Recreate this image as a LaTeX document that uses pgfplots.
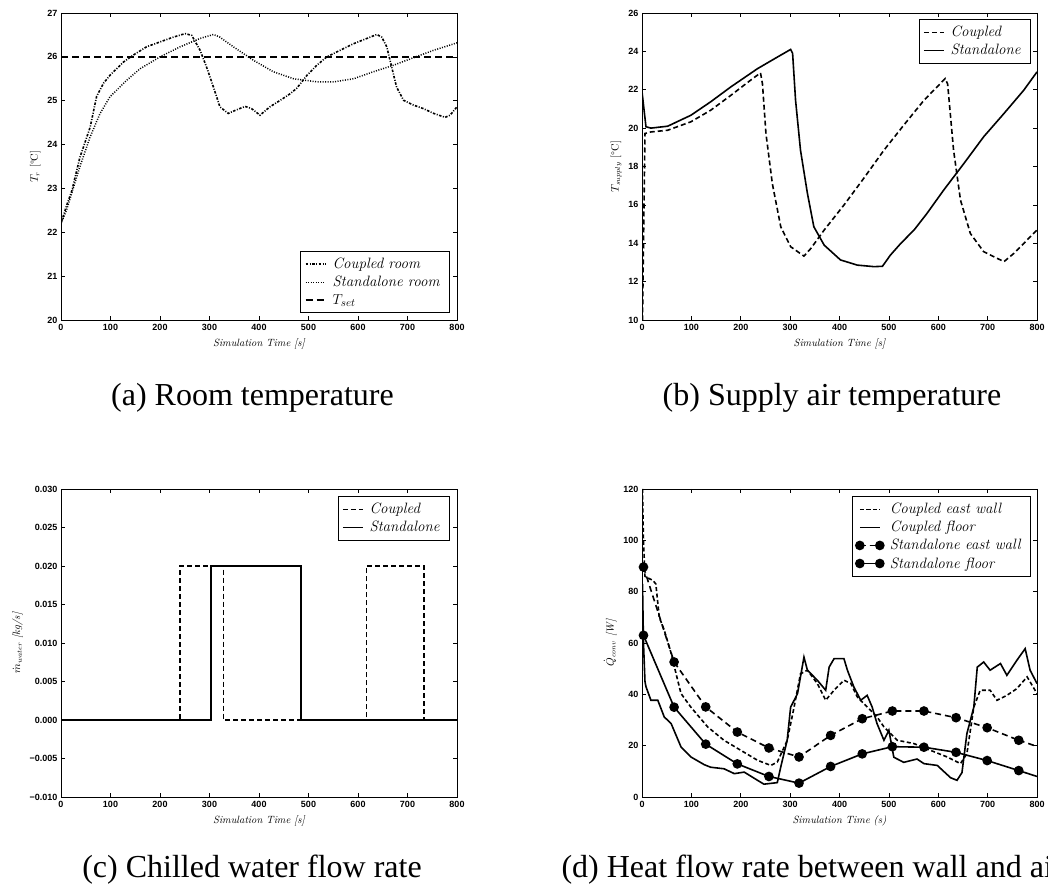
\documentclass[border=0pt]{standalone}
\usepackage{pgfplots}
\pgfplotsset{compat=1.18}
\usepackage{fontspec}
\newfontfamily\tickfont{Liberation Sans}
\newfontfamily\capfont{Liberation Serif}

\pgfplotsset{
  panel/.style={
    scale only axis, width=396pt, height=307pt,
    xmin=0, xmax=800, xtick={0,100,...,800},
    tick label style={font=\tickfont\bfseries\fontsize{9}{10}\selectfont},
    xticklabel style={yshift=-1pt},
    /pgf/number format/assume math mode=true,
    label style={font=\fontsize{10.5}{12}\selectfont\itshape},
    xlabel={Simulation Time [s]},
    xlabel style={yshift=-1pt},
    axis line style={line width=0.7pt},
    major tick length=4pt,
    every tick/.style={black, line width=0.6pt},
    legend cell align=left,
    legend style={font=\fontsize{15}{17}\selectfont\itshape, draw=black,
      line width=0.6pt, inner xsep=4pt, inner ysep=4pt, row sep=0pt,
      nodes={inner xsep=6pt, inner ysep=3pt}},
    legend image code/.code={\draw[mark repeat=2,mark phase=2,##1]
      plot coordinates {(0pt,0pt) (10pt,0pt) (20pt,0pt)};},
  },
  markleg/.style={legend image code/.code={\draw[##1, mark repeat=2, mark phase=1]
      plot coordinates {(0pt,0pt) (10pt,0pt) (20pt,0pt)};}},
}

\begin{document}
\begin{tikzpicture}
\useasboundingbox (0,0) rectangle (1048pt,891pt);

% (a) room temperature
\begin{axis}[panel, at={(61pt,571pt)}, anchor=south west,
  ymin=20, ymax=27, ytick={20,21,...,27},
  ylabel={$T_r$ \textup{[\textdegree C]}},
  legend style={at={(1,0)}, anchor=south east, xshift=-7pt, yshift=7pt}]
\addplot[black, line width=1.6pt, dash pattern=on 2.5pt off 1.5pt on 1pt off 1.5pt] coordinates {
(0,22.2) (11,22.6) (22,22.95) (38,23.7) (50,24.1) (59,24.4) (72,25.1) (86,25.4)
(99,25.58) (126,25.88) (146,26.04) (173,26.23) (200,26.34) (227,26.45) (251,26.53)
(264,26.49) (281,26.15) (294,25.77) (308,25.31) (321,24.86) (338,24.71) (352,24.78)
(372,24.87) (385,24.82) (402,24.67) (422,24.86) (443,25.01) (463,25.16) (476,25.28)
(497,25.58) (517,25.81) (537,26.0) (564,26.15) (591,26.30) (618,26.42) (638,26.51)
(648,26.45) (658,26.23) (668,25.77) (678,25.31) (692,25.01) (712,24.9) (732,24.82)
(753,24.71) (776,24.62) (786,24.67) (800,24.86)};
\addlegendentry{Coupled room}
\addplot[black, line width=1.5pt, dash pattern=on 1pt off 1.5pt] coordinates {
(0,22.2) (11,22.5) (38,23.49) (59,24.18) (79,24.71) (99,25.09) (133,25.47) (160,25.73)
(200,26.0) (241,26.23) (281,26.42) (308,26.51) (321,26.45) (348,26.23) (389,25.92)
(429,25.66) (470,25.5) (517,25.43) (551,25.43) (591,25.50) (631,25.66) (672,25.81)
(712,25.98) (753,26.15) (800,26.32)};
\addlegendentry{Standalone room}
\addplot[black, line width=2pt, dash pattern=on 7pt off 4pt] coordinates {(0,26) (800,26)};
\addlegendentry{$T_{set}$}
\end{axis}

% (b) supply air temperature
\begin{axis}[panel, at={(642pt,571pt)}, anchor=south west, width=395pt,
  ymin=10, ymax=26, ytick={10,12,...,26},
  ylabel={$T_{supply}$ \textup{[\textdegree C]}},
  legend style={at={(1,1)}, anchor=north east, xshift=-6pt, yshift=-6pt}]
\addplot[black, line width=1.6pt, dash pattern=on 5pt off 3pt] coordinates {
(0,10) (1,10) (6,19.72) (18,19.8) (52,19.89) (99,20.33) (139,20.93) (180,21.71)
(220,22.5) (240,22.88) (244,22.3) (251,19.72) (264,17.1) (281,14.86) (301,13.82)
(328,13.33) (342,13.73) (369,14.69) (409,15.99) (449,17.38) (490,18.85) (530,20.15)
(571,21.45) (614,22.58) (619,22.3) (631,18.85) (645,16.25) (665,14.51) (692,13.56)
(733,13.04) (753,13.47) (780,14.17) (800,14.69)};
\addlegendentry{Coupled}
\addplot[black, line width=1.6pt] coordinates {
(0,21.9) (8,20.07) (18,20.0) (52,20.1) (99,20.67) (139,21.37) (180,22.15) (234,23.1)
(274,23.7) (301,24.1) (305,23.9) (311,21.45) (321,18.85) (335,16.6) (348,14.86)
(369,13.9) (402,13.13) (436,12.86) (470,12.78) (487,12.8) (503,13.38) (524,13.99)
(551,14.69) (577,15.55) (611,16.77) (652,18.16) (692,19.55) (733,20.76) (773,21.97)
(800,22.93)};
\addlegendentry{Standalone}
\end{axis}

% (c) chilled water flow rate
\begin{axis}[panel, at={(61pt,94pt)}, anchor=south west, height=308pt,
  ymin=-0.010, ymax=0.030, scaled y ticks=false,
  ytick={-0.010,-0.005,0,0.005,0.010,0.015,0.020,0.025,0.030},
  yticklabels={−0.010,−0.005,0.000,0.005,0.010,0.015,0.020,0.025,0.030},
  ylabel={$\dot{m}_{water}$ [kg/s]},
  legend style={at={(1,1)}, anchor=north east, xshift=-7pt, yshift=-7pt}]
\addplot[black, line width=1.6pt, dash pattern=on 5pt off 3pt] coordinates {
(0,0) (240,0) (240,0.02) (328,0.02) (328,0) (617,0) (617,0.02) (733,0.02) (733,0) (800,0)};
\addlegendentry{Coupled}
\addplot[black, line width=1.6pt] coordinates {
(0,0) (303,0) (303,0.02) (485,0.02) (485,0) (800,0)};
\addlegendentry{Standalone}
\end{axis}

% (d) heat flow rate between wall and air
\begin{axis}[panel, at={(642pt,94pt)}, anchor=south west, width=395pt, height=308pt,
  ymin=0, ymax=120, ytick={0,20,...,120},
  ylabel={$\dot{Q}_{conv}$ [W]},
  xlabel={Simulation Time (s)},
  legend style={at={(1,1)}, anchor=north east, xshift=-6pt, yshift=-7pt}]
\addplot[black, line width=1.6pt, dash pattern=on 4pt off 2.5pt] coordinates {
(1,120) (3,100) (6,86) (8,85.7) (22,84.4) (28,83) (35,70) (45,65) (59,56) (69,48)
(79,40.3) (99,35) (133,27.3) (166,22.1) (200,18.2) (234,14.3) (261,12.3) (274,13.6)
(294,22) (308,35) (321,48) (335,49.4) (355,44.2) (372,37.7) (389,41.6) (409,45.5)
(423,44.2) (436,39) (456,35.1) (476,31.2) (490,27.3) (517,22.1) (551,20.8) (584,18.2)
(618,15.6) (645,13) (658,16.9) (672,35) (685,41.6) (705,41.6) (719,37.7) (739,39.6)
(759,42.2) (780,46.8) (800,40.3)};
\addlegendentry{Coupled east wall}
\addplot[black, line width=1.6pt] coordinates {
(1,83) (3,60) (6,45) (8,43) (18,37.7) (32,37.7) (45,31.2) (59,28.6) (79,19.5)
(99,15.6) (126,12.6) (139,11.6) (166,11) (187,9.1) (207,9.7) (234,6.5) (247,5.0)
(274,5.6) (281,11.7) (294,22.1) (301,35) (315,40.3) (328,54.5) (335,49.4) (355,45.5)
(372,41.6) (379,50.6) (389,53.9) (409,53.9) (416,49.4) (429,42.9) (443,37.7)
(456,39.6) (466,35.1) (476,28.6) (490,22.1) (500,26) (510,15.5) (530,13.5) (557,14.8)
(571,13.0) (598,12.3) (625,7.5) (638,6.5) (648,9.5) (658,24.7) (672,35) (679,50.6)
(692,52.6) (705,49.4) (726,52) (739,47.4) (759,53.2) (776,57.8) (786,49.4) (800,44.2)};
\addlegendentry{Coupled floor}
\addplot[black, line width=1.6pt, dash pattern=on 6pt off 4pt,
  mark=*, mark size=4pt, mark options={solid, fill=black}, markleg] coordinates {
(3,89.6) (65,52.6) (129,35.1) (193,25.3) (257,19.1) (318,15.6) (382,24) (446,30.5)
(507,33.5) (571,33.5) (636,30.9) (699,27) (763,22.1)};
\addlegendentry{Standalone east wall}
\addplot[black, line width=1.6pt,
  mark=*, mark size=4pt, mark options={solid, fill=black}, markleg] coordinates {
(3,63) (65,35) (129,20.6) (193,12.9) (257,8) (318,5.4) (382,11.9) (446,16.8)
(507,19.6) (571,19.4) (636,17.4) (699,14.2) (763,10.3)};
\addlegendentry{Standalone floor}
\addplot[black, line width=1.6pt, dash pattern=on 6pt off 4pt, forget plot]
  coordinates {(763,22.1) (800,19.7)};
\addplot[black, line width=1.6pt, forget plot] coordinates {(763,10.3) (800,8)};
\end{axis}

\node[font=\capfont\fontsize{32}{36}\selectfont, anchor=base] at (252.5pt,485pt) {(a) Room temperature};
\node[font=\capfont\fontsize{32}{36}\selectfont, anchor=base] at (832pt,485pt) {(b) Supply air temperature};
\node[font=\capfont\fontsize{32}{36}\selectfont, anchor=base] at (252pt,14pt) {(c) Chilled water flow rate};
\node[font=\capfont\fontsize{32}{36}\selectfont, anchor=base west] at (558pt,14pt) {(d) Heat flow rate between wall and air};
\end{tikzpicture}
\end{document}
